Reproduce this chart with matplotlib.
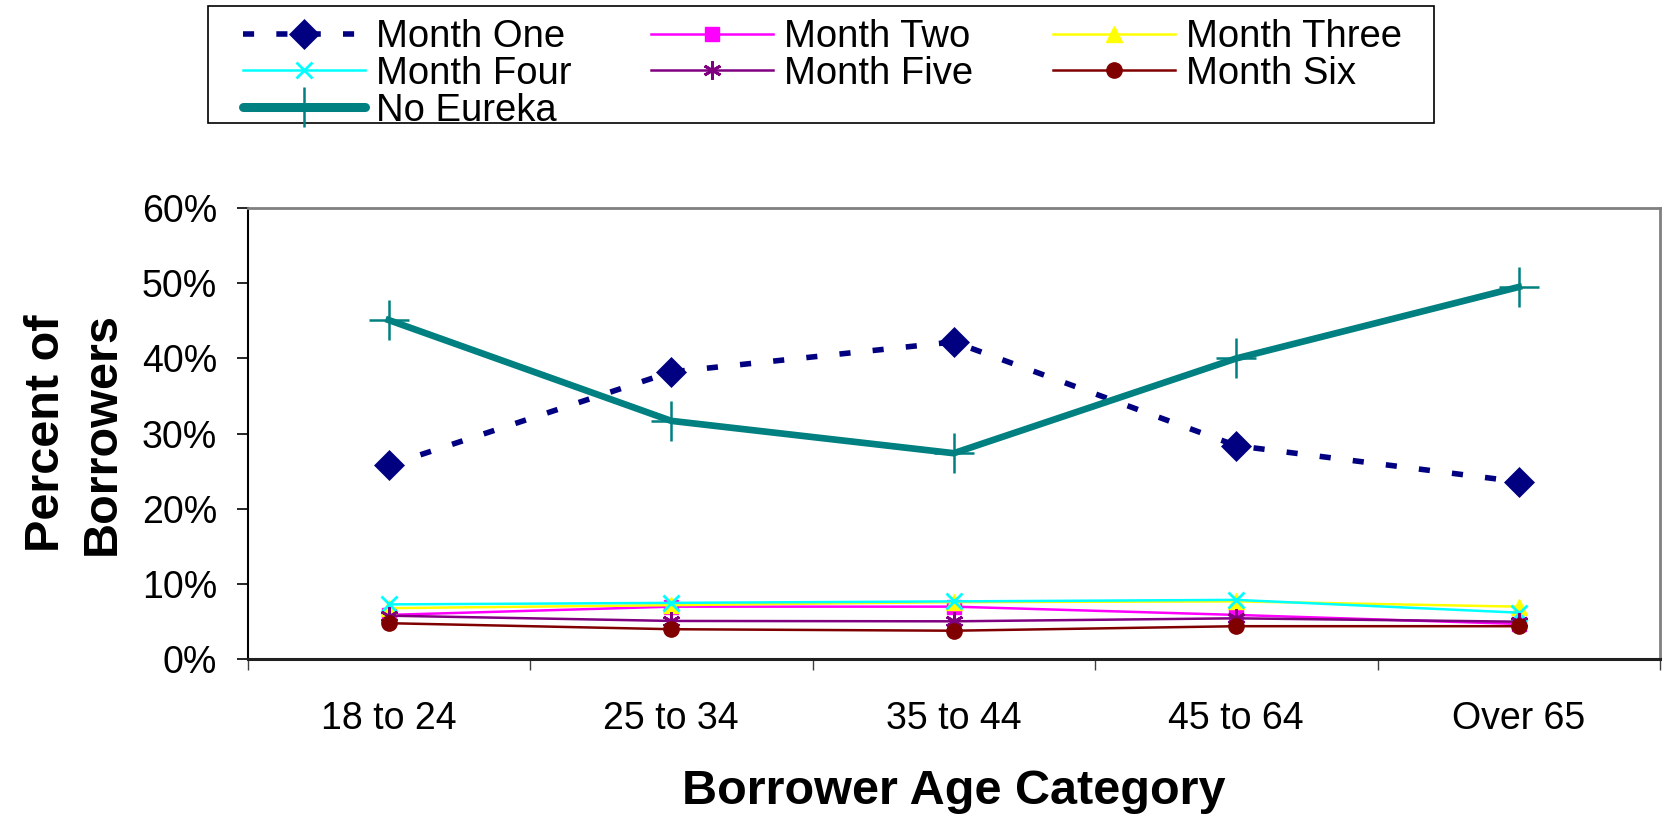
import numpy as np
import matplotlib
matplotlib.use("Agg")
import matplotlib.pyplot as plt
from matplotlib.patches import Rectangle
from matplotlib.ticker import FixedLocator, FuncFormatter

plt.rcParams['font.family'] = ['Liberation Sans', 'DejaVu Sans']

## age groups and percent of borrowers per group
categories = ['18 to 24', '25 to 34', '35 to 44', '45 to 64', 'Over 65']
month_one = [25.8, 38.2, 42.2, 28.4, 23.6]
month_two = [5.9, 7.0, 7.0, 5.9, 4.7]
month_three = [6.8, 7.2, 7.6, 7.7, 7.0]
month_four = [7.3, 7.5, 7.7, 7.9, 6.2]
month_five = [5.8, 5.1, 5.05, 5.45, 5.0]
month_six = [4.8, 4.0, 3.8, 4.4, 4.4]
no_eureka = [45.1, 31.7, 27.4, 40.0, 49.5]
yticks = [0, 10, 20, 30, 40, 50, 60]

W, H = 1662, 817
fig = plt.figure(figsize=(W / 100, H / 100), dpi=100)
ax = fig.add_axes([247.5 / W, 1 - 659.3 / H, 1412.5 / W, 451.3 / H])

x = np.arange(len(categories))

ax.plot(x, month_one, color='#000080', lw=4, dashes=(2, 4), dash_capstyle='butt',
        marker='D', ms=15, mec='#000080', mew=0.5, label='Month One')
ax.plot(x, month_two, color='#FF00FF', lw=1.8, marker='s', ms=10, label='Month Two')
ax.plot(x, month_three, color='#FFFF00', lw=1.8, marker='^', ms=11, label='Month Three')
ax.plot(x, month_four, color='#00FFFF', lw=1.8, marker='x', ms=12, mew=2, label='Month Four')
ax.plot(x, month_five, color='#800080', lw=1.8, marker=(6, 2, 0), ms=13, mew=2, label='Month Five')
ax.plot(x, month_six, color='#800000', lw=1.8, marker='o', ms=11, label='Month Six')
ax.plot(x, no_eureka, color='#008080', lw=4.8, marker='+', ms=29, mew=1.8, label='No Eureka')

ax.set_xlim(-0.5, len(categories) - 0.5)
ax.set_ylim(0, 60)

ax.set_xticks(x)
ax.set_xticklabels(categories)
ax.xaxis.set_minor_locator(FixedLocator(np.arange(len(categories) + 1) - 0.5))
ax.tick_params(axis='x', which='major', length=0, pad=30, labelsize=27)
ax.tick_params(axis='x', which='minor', length=8, width=1, color='#404040')
ax.set_yticks(yticks)
ax.yaxis.set_major_formatter(FuncFormatter(lambda v, p: f'{v:.0f}%'))
ax.tick_params(axis='y', length=8, width=1.2, pad=14, labelsize=27)

for side in ['top', 'right']:
    ax.spines[side].set_color('#808080')
    ax.spines[side].set_linewidth(2)
ax.spines['left'].set_color('black')
ax.spines['left'].set_linewidth(1.5)
ax.spines['bottom'].set_color('#202020')
ax.spines['bottom'].set_linewidth(2.2)

ax.set_xlabel('Borrower Age Category', fontsize=35, fontweight='bold')
ax.xaxis.set_label_coords(0.5, -0.244)
ax.set_ylabel('Percent of\nBorrowers', fontsize=35, fontweight='bold', linespacing=1.3)
ax.yaxis.set_label_coords(-0.087, 0.5)

## legend fills column by column, so reorder to read across rows
handles, labels = ax.get_legend_handles_labels()
order = [0, 3, 6, 1, 4, 2, 5]
leg = fig.legend([handles[i] for i in order], [labels[i] for i in order],
                 ncol=3, loc='upper left', bbox_to_anchor=(243 / W, 1 - 19 / H),
                 frameon=False, fontsize=27.5, borderpad=0, borderaxespad=0,
                 handlelength=3.2, handletextpad=0.27, columnspacing=2.1,
                 labelspacing=0.02, numpoints=1)
for line in leg.get_lines():
    if line.get_label() == 'No Eureka':
        line.set_linewidth(6.5)
        line.set_solid_capstyle('round')

fig.patches.append(Rectangle((208 / W, 1 - 123 / H), (1434 - 208) / W, (123 - 5.7) / H,
                             transform=fig.transFigure, fill=False,
                             edgecolor='black', linewidth=1.2))

fig.savefig('out.png', dpi=100)
